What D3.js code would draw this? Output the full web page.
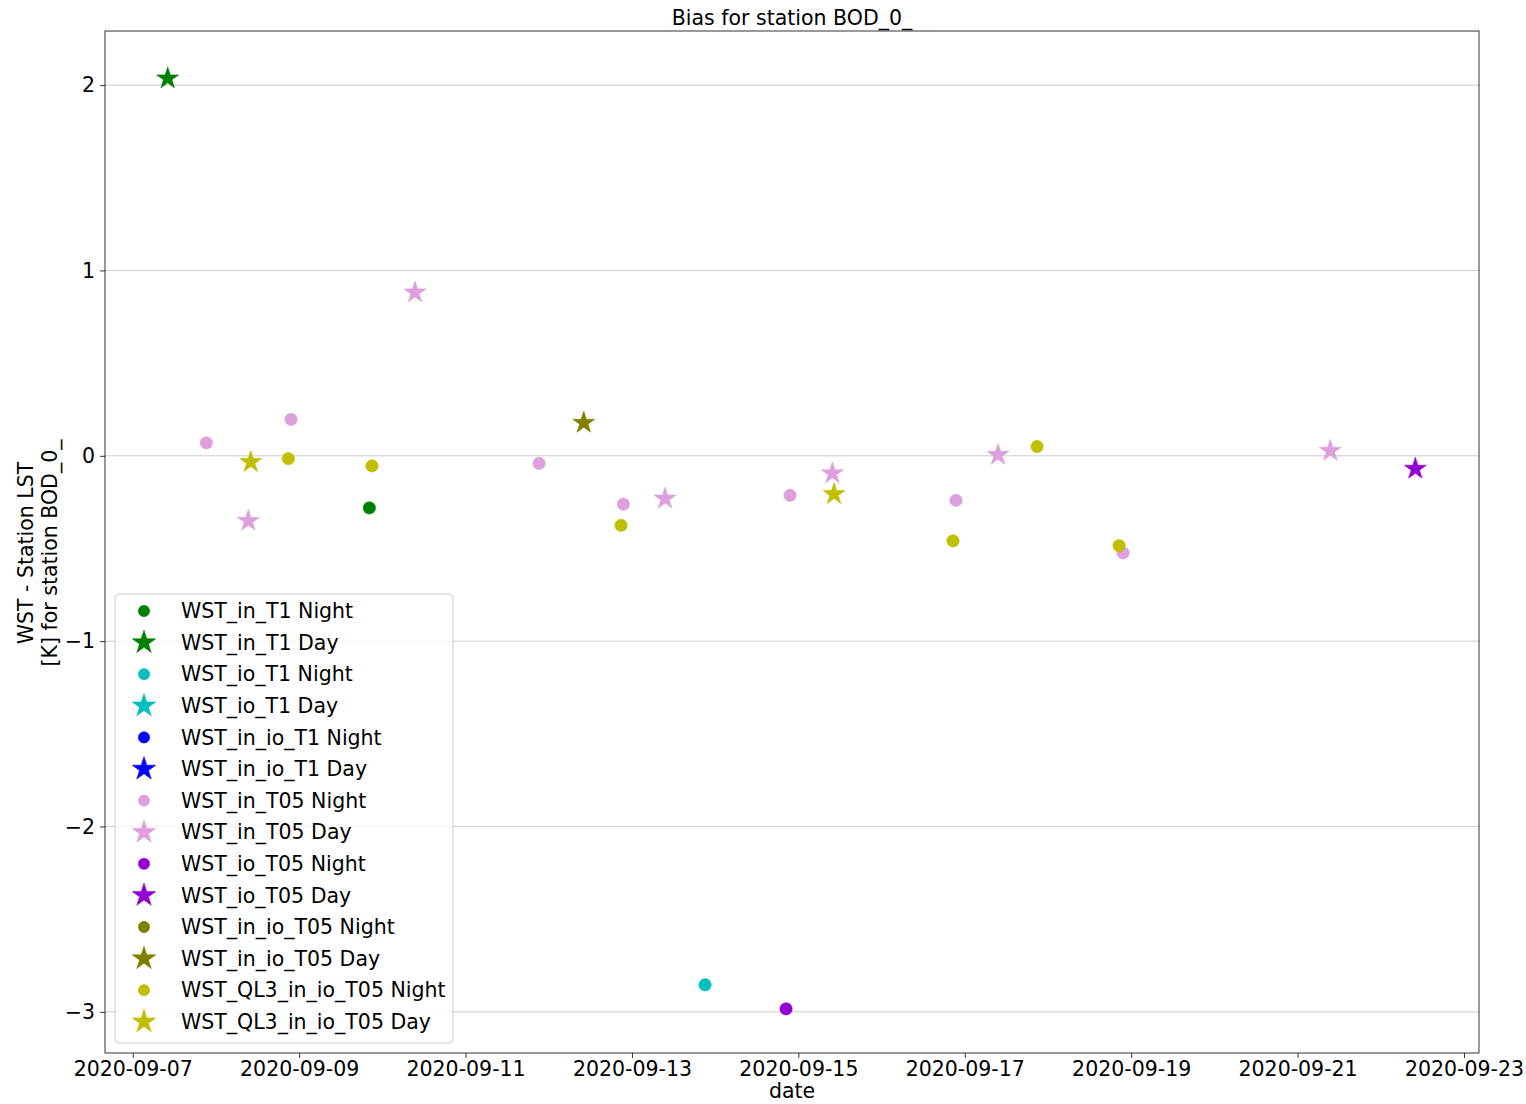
<!DOCTYPE html>
<html><head><meta charset="utf-8">
<script src="https://cdn.jsdelivr.net/npm/d3@7"></script>
<style>body{margin:0;background:#fff;} text{font-family:"DejaVu Sans",sans-serif;}</style>
</head><body><svg id="c" width="1526" height="1104"></svg>
<script>
// ---- data ----
const seriesNames = ["WST_in_T1 Night","WST_in_T1 Day","WST_io_T1 Night","WST_io_T1 Day","WST_in_io_T1 Night","WST_in_io_T1 Day","WST_in_T05 Night","WST_in_T05 Day","WST_io_T05 Night","WST_io_T05 Day","WST_in_io_T05 Night","WST_in_io_T05 Day","WST_QL3_in_io_T05 Night","WST_QL3_in_io_T05 Day"];
const seriesColors = ["#008000","#008000","#00bfbf","#00bfbf","#0000ff","#0000ff","#dda0dd","#dda0dd","#9400d3","#9400d3","#808000","#808000","#bfbf00","#bfbf00"];
const seriesShapes = ["circle","star","circle","star","circle","star","circle","star","circle","star","circle","star","circle","star"];

const inT1NightDates = ["2020-09-09T20:15"];
const inT1NightValues = [-0.281];
const inT1DayDates = ["2020-09-07T10:05"];
const inT1DayValues = [2.036];
const ioT1NightDates = ["2020-09-13T21:05"];
const ioT1NightValues = [-2.854];
const ioT1DayDates = [];
const ioT1DayValues = [];
const inioT1NightDates = [];
const inioT1NightValues = [];
const inioT1DayDates = [];
const inioT1DayValues = [];
const inT05NightDates = ["2020-09-07T21:14","2020-09-08T21:40","2020-09-11T21:12","2020-09-12T21:31","2020-09-14T21:36","2020-09-16T21:29","2020-09-18T21:40"];
const inT05NightValues = [0.070,0.196,-0.041,-0.261,-0.213,-0.240,-0.524];
const inT05DayDates = ["2020-09-08T09:21","2020-09-10T09:26","2020-09-13T09:33","2020-09-15T09:49","2020-09-17T09:36","2020-09-21T09:26"];
const inT05DayValues = [-0.351,0.881,-0.231,-0.095,0.005,0.027];
const ioT05NightDates = ["2020-09-14T20:27"];
const ioT05NightValues = [-2.984];
const ioT05DayDates = ["2020-09-22T09:58"];
const ioT05DayValues = [-0.070];
const inioT05NightDates = [];
const inioT05NightValues = [];
const inioT05DayDates = ["2020-09-12T10:06"];
const inioT05DayValues = [0.178];
const ql3NightDates = ["2020-09-08T20:53","2020-09-09T21:01","2020-09-12T20:51","2020-09-16T20:37","2020-09-17T20:51","2020-09-18T20:31"];
const ql3NightValues = [-0.015,-0.054,-0.375,-0.459,0.050,-0.485];
const ql3DayDates = ["2020-09-08T10:02","2020-09-15T10:18"];
const ql3DayValues = [-0.034,-0.207];

const xTickLabels = ["2020-09-07","2020-09-09","2020-09-11","2020-09-13","2020-09-15","2020-09-17","2020-09-19","2020-09-21","2020-09-23"];
const yTicks = [-3,-2,-1,0,1,2];

const allDates = [inT1NightDates,inT1DayDates,ioT1NightDates,ioT1DayDates,inioT1NightDates,inioT1DayDates,inT05NightDates,inT05DayDates,ioT05NightDates,ioT05DayDates,inioT05NightDates,inioT05DayDates,ql3NightDates,ql3DayDates];
const allValues = [inT1NightValues,inT1DayValues,ioT1NightValues,ioT1DayValues,inioT1NightValues,inioT1DayValues,inT05NightValues,inT05DayValues,ioT05NightValues,ioT05DayValues,inioT05NightValues,inioT05DayValues,ql3NightValues,ql3DayValues];

// ---- drawing ----
const FS = 20.5;
const svg = d3.select("#c");
const L=105, R=1479, T=31, B=1053;
const parse = d3.utcParse("%Y-%m-%dT%H:%M");
const parseDay = d3.utcParse("%Y-%m-%d");
const x = d3.scaleUtc().domain([parse("2020-09-06T16:00"), parse("2020-09-23T04:20")]).range([L,R]);
const y = d3.scaleLinear().domain([-3.222, 2.292]).range([B,T]);

// grid
svg.append("g").selectAll("line").data(yTicks).join("line")
  .attr("x1",L).attr("x2",R).attr("y1",d=>y(d)).attr("y2",d=>y(d))
  .attr("stroke","#b0b0b0").attr("stroke-width",0.8).attr("opacity",0.8);

const fmtMinus = d => (d<0? "\u2212"+Math.abs(d) : String(d));
const xAxis = d3.axisBottom(x).tickValues(xTickLabels.map(parseDay)).tickFormat(d3.utcFormat("%Y-%m-%d")).tickSize(5).tickPadding(3);
const gx = svg.append("g").attr("transform",`translate(0,${B})`).call(xAxis);
const yAxis = d3.axisLeft(y).tickValues(yTicks).tickFormat(fmtMinus).tickSize(5).tickPadding(5);
const gy = svg.append("g").attr("transform",`translate(${L},0)`).call(yAxis);
[gx,gy].forEach(g=>{
  g.select(".domain").remove();
  g.selectAll("text").attr("font-size",FS).attr("font-family","DejaVu Sans").attr("fill","#000");
  g.selectAll("line").attr("stroke","#000").attr("stroke-width",0.8);
});

svg.append("rect").attr("x",L).attr("y",T).attr("width",R-L).attr("height",B-T)
  .attr("fill","none").attr("stroke","#000").attr("stroke-width",0.8);

const starPath = d3.symbol().type(d3.symbolStar).size(150)();
const circPath = d3.symbol().type(d3.symbolCircle).size(120)();

seriesNames.forEach((name,i)=>{
  const pts = allDates[i].map((d,j)=>({t:parse(d), v:allValues[i][j]}));
  svg.append("g").selectAll("path").data(pts).join("path")
    .attr("d", seriesShapes[i]==="star"?starPath:circPath)
    .attr("transform",d=>`translate(${x(d.t)},${y(d.v)})`)
    .attr("fill",seriesColors[i]).attr("stroke",seriesColors[i]).attr("stroke-width",0.6);
});

// legend
const lg = svg.append("g");
lg.append("rect").attr("x",115).attr("y",594).attr("width",338).attr("height",449).attr("rx",4)
  .attr("fill","#fff").attr("fill-opacity",0.8).attr("stroke","#cccccc").attr("stroke-width",1);
seriesNames.forEach((name,i)=>{
  const yy = 611 + i*31.6;
  lg.append("path").attr("d", seriesShapes[i]==="star"?d3.symbol().type(d3.symbolStar).size(170)():d3.symbol().type(d3.symbolCircle).size(100)())
    .attr("transform",`translate(144,${yy})`).attr("fill",seriesColors[i]).attr("stroke",seriesColors[i]).attr("stroke-width",0.6);
  lg.append("text").attr("x",181).attr("y",yy).attr("dy","0.35em").attr("font-size",FS).text(name);
});

// titles
svg.append("text").attr("x",(L+R)/2).attr("y",25).attr("text-anchor","middle").attr("font-size",FS).text("Bias for station BOD_0_");
svg.append("text").attr("x",(L+R)/2).attr("y",1098).attr("text-anchor","middle").attr("font-size",FS).text("date");
const yl = svg.append("text").attr("transform","translate(0,553) rotate(-90)").attr("text-anchor","middle").attr("font-size",FS);
yl.append("tspan").attr("x",0).attr("y",33).text("WST - Station LST");
yl.append("tspan").attr("x",0).attr("y",57).text("[K] for station BOD_0_");
</script></body></html>
